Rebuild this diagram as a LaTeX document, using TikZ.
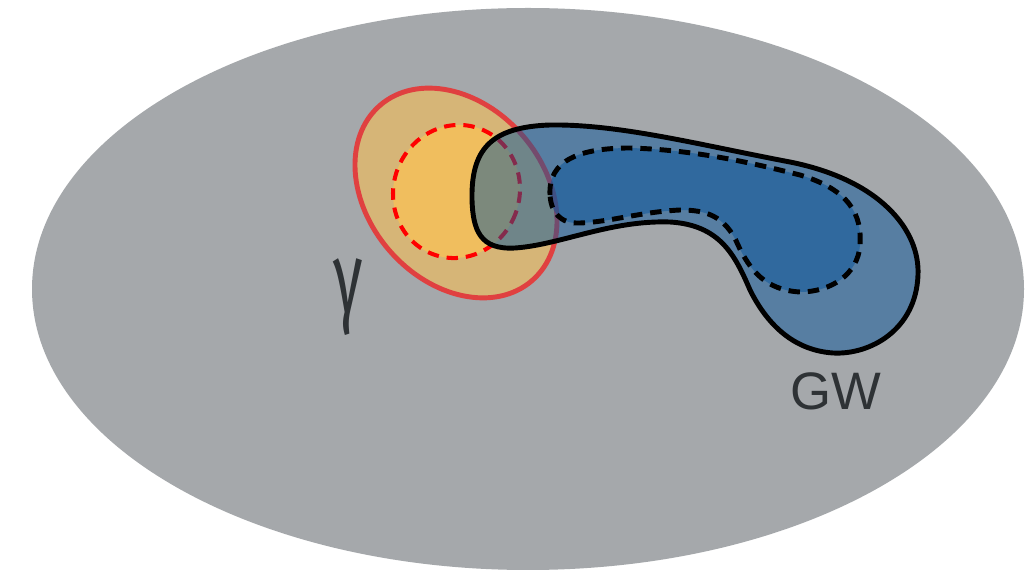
\documentclass[tikz,border=0pt]{standalone}
\usepackage{fontspec}
\newfontfamily\gwfont{Liberation Sans}
\newfontfamily\gammafont{Fira Sans}
\definecolor{greybg}{RGB}{165,168,171}
\definecolor{orout}{RGB}{214,181,119}
\definecolor{orin}{RGB}{240,190,94}
\definecolor{redline}{RGB}{224,64,64}
\definecolor{bluefill}{RGB}{10,86,155}
\definecolor{inkc}{RGB}{46,50,53}
\tikzset{
  region/.style={line join=round},
  redout/.style={region, draw=redline, line width=2.8pt, fill=orout},
  redin/.style={region, draw=red, line width=2.3pt, dash pattern=on 6.5pt off 4.5pt, fill=orin},
  blueout/.style={region, fill=bluefill, fill opacity=0.5, draw=black, line width=2.8pt},
  bluein/.style={region, fill=bluefill, fill opacity=0.5, draw=black, line width=2.8pt, dash pattern=on 6.5pt off 4.5pt},
  lbl/.style={inner sep=0pt, text=inkc}
}
\begin{document}
\begin{tikzpicture}[x=0.02cm, y=-0.02cm]
\useasboundingbox (0,0) rectangle (1025,577);
\fill[white] (0,0) rectangle (1025,577);
% grey domain
\fill[greybg] (528,289) ellipse [x radius=496, y radius=281];
% orange region
\path[redout, rotate around={-49:(456,193)}] (456,193) ellipse [x radius=116, y radius=88];
\path[redin, rotate around={-20:(456.5,191.5)}] (456.5,191.5) ellipse [x radius=63, y radius=67];
% blue region
\path[blueout] (472,200) .. controls (471,150) and (490,127) .. (550,125)
  .. controls (620,124) and (700,145) .. (790,162)
  .. controls (880,180) and (920,230) .. (918,275)
  .. controls (916,330) and (870,355) .. (833,353)
  .. controls (790,350) and (765,320) .. (750,290)
  .. controls (735,255) and (720,225) .. (670,222)
  .. controls (610,220) and (560,245) .. (515,248)
  .. controls (480,250) and (473,230) .. (472,200) -- cycle;
\path[bluein] (550,195) .. controls (548,160) and (580,148) .. (630,148)
  .. controls (700,150) and (760,165) .. (800,175)
  .. controls (850,190) and (862,215) .. (860,245)
  .. controls (858,275) and (830,292) .. (800,292)
  .. controls (765,290) and (750,270) .. (738,245)
  .. controls (725,215) and (705,210) .. (680,210)
  .. controls (640,212) and (610,222) .. (580,223)
  .. controls (560,224) and (551,212) .. (550,195) -- cycle;
% labels
\node[lbl] (gamma) at (348,297) {\scalebox{0.6}[1]{\gammafont\fontsize{58}{58}\selectfont γ}};
\node[lbl] (gw) at (836,391) {\gwfont\fontsize{30}{30}\selectfont GW};
\end{tikzpicture}
\end{document}
